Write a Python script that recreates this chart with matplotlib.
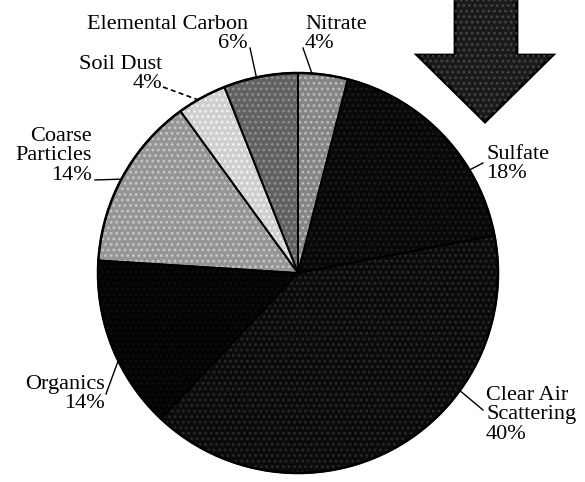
import numpy as np
import matplotlib
matplotlib.use("Agg")
import matplotlib.pyplot as plt
from matplotlib.patches import Polygon

plt.rcParams.update({"font.family": ["Liberation Serif", "DejaVu Serif"],
                     "hatch.linewidth": 1.2})

# slices, clockwise from 12 o'clock
LABELS = ["Nitrate", "Sulfate", "Clear Air\nScattering", "Organics",
          "Coarse\nParticles", "Soil Dust", "Elemental Carbon"]
SHARES = [4, 18, 40, 14, 14, 4, 6]
FILLS = ["#858585", "#080808", "#0b0b0b", "#040404", "#959595", "#cfcfcf", "#616161"]
DOTS = ["#bcbcbc", "#1c1c1c", "#2a2a2a", "#0e0e0e", "#c8c8c8", "#f2f2f2", "#909090"]

W, H = 585, 482
CX, CY, R = 298, H - 273, 200

fig = plt.figure(figsize=(W / 100, H / 100), dpi=100)
ax = fig.add_axes([0, 0, 1, 1])
pie_kw = dict(startangle=90, counterclock=False, center=(CX, CY), radius=R)
ax.pie(SHARES, colors=FILLS, wedgeprops=dict(linewidth=0), **pie_kw)
# halftone-ish texture from the scan
tex, _ = ax.pie(SHARES, colors=["none"] * len(SHARES),
                wedgeprops=dict(linewidth=0), **pie_kw)
for w, c in zip(tex, DOTS):
    w.set_hatch("...")
    w.set_edgecolor(c)
# slice borders on top
ax.pie(SHARES, colors=["none"] * len(SHARES),
       wedgeprops=dict(edgecolor="black", linewidth=1.3), **pie_kw)
ax.add_patch(plt.Circle((CX, CY), R, fill=False, edgecolor="black", lw=1.8))

# label layout: (text x, text top y, align, leader angle on rim, leader start x, y, style)
LAYOUT = [
    (305, 15, "left", 86, 303, 48, "-"),
    (486, 145, "left", 31, 483, 163, "-"),
    (486, 386, "left", -36, 483, 410, "-"),
    (105, 375, "right", 206, 106, 394, "-"),
    (92, 127, "right", 152, 95, 180, "-"),
    (162, 55, "right", 120, 163, 87, "--"),
    (248, 15, "right", 102, 250, 48, "-"),
]

for lab, pct, (tx, ty, ha, ang, lx, ly, ls) in zip(LABELS, SHARES, LAYOUT):
    ax.text(tx, H - ty, f"{lab}\n{pct}%", ha=ha, va="top", multialignment=ha,
            fontsize=16, linespacing=1.03, color="black")
    ex = CX + R * np.cos(np.radians(ang))
    ey = CY + R * np.sin(np.radians(ang))
    if ls == "--":
        ax.plot([lx, ex], [H - ly, ey], color="black", lw=1.2, ls=(0, (3, 2)))
    else:
        ax.plot([lx, ex], [H - ly, ey], color="black", lw=1.0)

# big down arrow at top right
arrow = [(455, -5), (517, -5), (517, 55), (553, 55), (485, 122), (417, 55), (455, 55)]
ax.add_patch(Polygon([(x, H - y) for x, y in arrow], closed=True,
                     facecolor="#1a1a1a", edgecolor="black", lw=2))
ax.add_patch(Polygon([(x, H - y) for x, y in arrow], closed=True,
                     facecolor="none", edgecolor="#444444", hatch="...", lw=0))

ax.set_xlim(0, W)
ax.set_ylim(0, H)
ax.set_aspect("equal")
ax.axis("off")
fig.savefig("out.png", dpi=100, facecolor="white")
